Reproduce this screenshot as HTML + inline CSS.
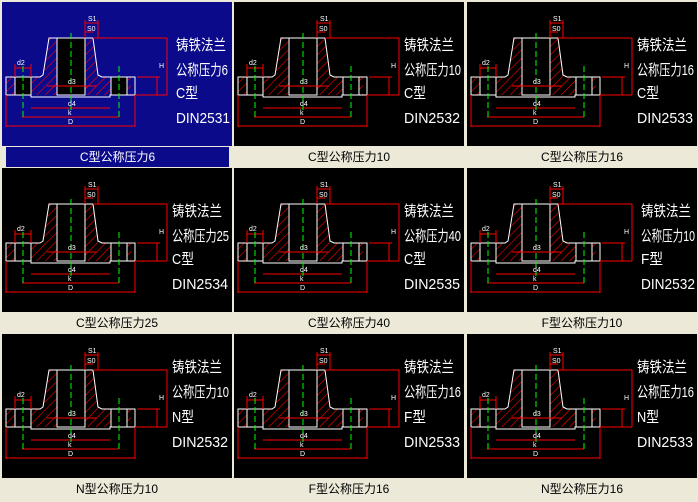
<!DOCTYPE html>
<html><head><meta charset="utf-8"><style>
body{margin:0;width:698px;height:502px;background:#ece9d8;position:relative;overflow:hidden;font-family:"Liberation Sans","Noto Sans CJK SC",sans-serif}
.c{position:absolute;width:230px;height:144px;background:#000}
.c svg{position:absolute;left:0;top:0}
.lb{position:absolute;width:230px;height:20px;line-height:20px;text-align:center;font-size:12px;color:#000}
.sel{background:#0a0a8a}
.t{font-family:"Liberation Sans","Noto Sans CJK SC",sans-serif;fill:#fff;font-size:15px}
</style></head><body>
<svg width="0" height="0" style="position:absolute">
<defs>
<pattern id="h" width="6" height="6" patternUnits="userSpaceOnUse" patternTransform="rotate(45)"><line x1="0" y1="0" x2="0" y2="6" stroke="#f00" stroke-width="1.2"/></pattern>
<symbol id="dC" viewBox="0 0 230 144" width="230" height="144">
<rect x="4" y="75" width="125" height="18" fill="url(#h)"/>
<polygon points="47,36 55,36 55,75 41,75" fill="url(#h)"/>
<polygon points="83,36 91,36 96,75 83,75" fill="url(#h)"/>
<rect x="55" y="36" width="28" height="57" fill="#000"/>
<rect x="13" y="75" width="16" height="18" fill="#000" stroke="#fff"/>
<rect x="109" y="75" width="16" height="18" fill="#000" stroke="#fff"/>
<polyline points="55,36 91,36 96,73 100,75 133,75 133,93 108,93 108,95 29,95 29,93 4,93 4,75 38,75 41,73 47,36 55,36 55,93 83,93 83,36" fill="none" stroke="#fff"/>
<g stroke="#f00" fill="none">
<line x1="91" y1="36" x2="165" y2="36"/><line x1="165" y1="36" x2="165" y2="93"/><line x1="133" y1="93" x2="165" y2="93"/>
<line x1="135" y1="75" x2="158" y2="75"/><line x1="155" y1="75" x2="155" y2="93"/>
<line x1="4" y1="124" x2="133" y2="124"/><line x1="4" y1="93" x2="4" y2="125"/><line x1="133" y1="93" x2="133" y2="125"/>
<line x1="20" y1="115" x2="117" y2="115"/><line x1="29" y1="106" x2="108" y2="106"/>
<line x1="83" y1="21" x2="96" y2="21"/><line x1="83" y1="30" x2="91" y2="30"/><line x1="83" y1="18" x2="83" y2="36"/><line x1="96" y1="18" x2="96" y2="36"/>
<line x1="13" y1="66" x2="29" y2="66"/><line x1="13" y1="62" x2="13" y2="75"/><line x1="29" y1="62" x2="29" y2="75"/>
<line x1="45" y1="84" x2="95" y2="84"/>
</g>
<g stroke="#0f0" stroke-dasharray="6,3"><line x1="69" y1="31" x2="69" y2="108"/><line x1="21" y1="64" x2="21" y2="118"/><line x1="117" y1="64" x2="117" y2="118"/></g>
<g fill="#fff" font-size="7" font-family="Liberation Sans,sans-serif"><text x="86" y="19">S1</text><text x="85" y="29">S0</text><text x="66" y="82">d3</text><text x="66" y="104">d4</text><text x="66" y="113">k</text><text x="66" y="122">D</text><text x="15" y="63">d2</text><text x="157" y="66">H</text></g>
</symbol>
</defs></svg>

<div class="c sel" style="left:2px;top:2px"><svg width="230" height="144"><use href="#dC"/><text class="t" x="174" y="48" textLength="50" lengthAdjust="spacingAndGlyphs">铸铁法兰</text><text class="t" x="174" y="73" textLength="52" lengthAdjust="spacingAndGlyphs">公称压力6</text><text class="t" x="174" y="96" textLength="22" lengthAdjust="spacingAndGlyphs">C型</text><text class="t" x="174" y="121" textLength="54" lengthAdjust="spacingAndGlyphs">DIN2531</text></svg></div>
<div class="c" style="left:234px;top:2px"><svg width="230" height="144"><use href="#dC"/><text class="t" x="170" y="48" textLength="50" lengthAdjust="spacingAndGlyphs">铸铁法兰</text><text class="t" x="170" y="73" textLength="57" lengthAdjust="spacingAndGlyphs">公称压力10</text><text class="t" x="170" y="96" textLength="22" lengthAdjust="spacingAndGlyphs">C型</text><text class="t" x="170" y="121" textLength="56" lengthAdjust="spacingAndGlyphs">DIN2532</text></svg></div>
<div class="c" style="left:467px;top:2px"><svg width="230" height="144"><use href="#dC"/><text class="t" x="170" y="48" textLength="50" lengthAdjust="spacingAndGlyphs">铸铁法兰</text><text class="t" x="170" y="73" textLength="57" lengthAdjust="spacingAndGlyphs">公称压力16</text><text class="t" x="170" y="96" textLength="22" lengthAdjust="spacingAndGlyphs">C型</text><text class="t" x="170" y="121" textLength="56" lengthAdjust="spacingAndGlyphs">DIN2533</text></svg></div>

<div class="c" style="left:2px;top:168px"><svg width="230" height="144"><use href="#dC"/><text class="t" x="170" y="48" textLength="50" lengthAdjust="spacingAndGlyphs">铸铁法兰</text><text class="t" x="170" y="73" textLength="57" lengthAdjust="spacingAndGlyphs">公称压力25</text><text class="t" x="170" y="96" textLength="22" lengthAdjust="spacingAndGlyphs">C型</text><text class="t" x="170" y="121" textLength="56" lengthAdjust="spacingAndGlyphs">DIN2534</text></svg></div>
<div class="c" style="left:234px;top:168px"><svg width="230" height="144"><use href="#dC"/><text class="t" x="170" y="48" textLength="50" lengthAdjust="spacingAndGlyphs">铸铁法兰</text><text class="t" x="170" y="73" textLength="57" lengthAdjust="spacingAndGlyphs">公称压力40</text><text class="t" x="170" y="96" textLength="22" lengthAdjust="spacingAndGlyphs">C型</text><text class="t" x="170" y="121" textLength="56" lengthAdjust="spacingAndGlyphs">DIN2535</text></svg></div>
<div class="c" style="left:467px;top:168px"><svg width="230" height="144"><use href="#dC"/><text class="t" x="174" y="48" textLength="50" lengthAdjust="spacingAndGlyphs">铸铁法兰</text><text class="t" x="174" y="73" textLength="54" lengthAdjust="spacingAndGlyphs">公称压力10</text><text class="t" x="174" y="96" textLength="22" lengthAdjust="spacingAndGlyphs">F型</text><text class="t" x="174" y="121" textLength="54" lengthAdjust="spacingAndGlyphs">DIN2532</text></svg></div>

<div class="c" style="left:2px;top:334px"><svg width="230" height="144"><use href="#dC"/><text class="t" x="170" y="38" textLength="50" lengthAdjust="spacingAndGlyphs">铸铁法兰</text><text class="t" x="170" y="63" textLength="57" lengthAdjust="spacingAndGlyphs">公称压力10</text><text class="t" x="170" y="88" textLength="22" lengthAdjust="spacingAndGlyphs">N型</text><text class="t" x="170" y="113" textLength="56" lengthAdjust="spacingAndGlyphs">DIN2532</text></svg></div>
<div class="c" style="left:234px;top:334px"><svg width="230" height="144"><use href="#dC"/><text class="t" x="170" y="38" textLength="50" lengthAdjust="spacingAndGlyphs">铸铁法兰</text><text class="t" x="170" y="63" textLength="57" lengthAdjust="spacingAndGlyphs">公称压力16</text><text class="t" x="170" y="88" textLength="22" lengthAdjust="spacingAndGlyphs">F型</text><text class="t" x="170" y="113" textLength="56" lengthAdjust="spacingAndGlyphs">DIN2533</text></svg></div>
<div class="c" style="left:467px;top:334px"><svg width="230" height="144"><use href="#dC"/><text class="t" x="170" y="38" textLength="50" lengthAdjust="spacingAndGlyphs">铸铁法兰</text><text class="t" x="170" y="63" textLength="57" lengthAdjust="spacingAndGlyphs">公称压力16</text><text class="t" x="170" y="88" textLength="22" lengthAdjust="spacingAndGlyphs">N型</text><text class="t" x="170" y="113" textLength="56" lengthAdjust="spacingAndGlyphs">DIN2533</text></svg></div>

<div class="lb sel" style="left:6px;top:147px;width:223px;color:#fff">C型公称压力6</div>
<div class="lb" style="left:234px;top:147px">C型公称压力10</div>
<div class="lb" style="left:467px;top:147px">C型公称压力16</div>
<div class="lb" style="left:2px;top:313px">C型公称压力25</div>
<div class="lb" style="left:234px;top:313px">C型公称压力40</div>
<div class="lb" style="left:467px;top:313px">F型公称压力10</div>
<div class="lb" style="left:2px;top:479px">N型公称压力10</div>
<div class="lb" style="left:234px;top:479px">F型公称压力16</div>
<div class="lb" style="left:467px;top:479px">N型公称压力16</div>
</body></html>
